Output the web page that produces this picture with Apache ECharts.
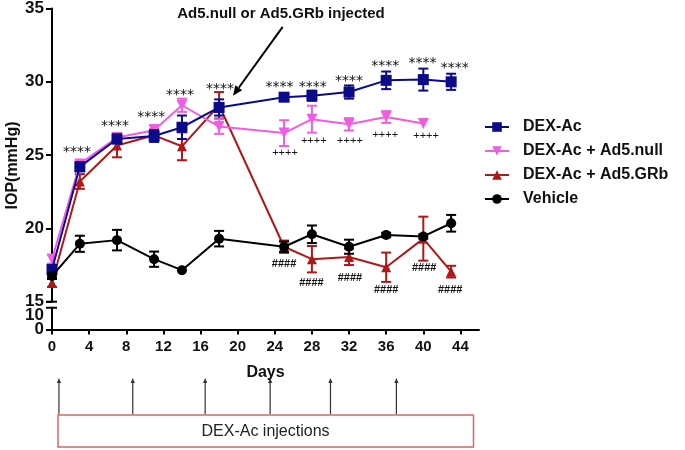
<!DOCTYPE html>
<html><head><meta charset="utf-8">
<script src="https://cdn.jsdelivr.net/npm/echarts@6/dist/echarts.min.js"></script>
<style>html,body{margin:0;padding:0;background:#fff}#c{width:685px;height:450px}</style>
</head><body><div id="c"></div>
<script>
// ---- data ----
const days = [0, 3, 7, 11, 14, 18, 25, 28, 32, 36, 40, 43];
const dexAc = [17.2, 24.2, 26.1, 26.3, 26.9, 28.25, 28.95, 29.05, 29.3, 30.1, 30.15, 30.0];
const dexAcErr = [0.3, 0.3, 0.3, 0.4, 0.8, 0.55, 0.25, 0.35, 0.45, 0.6, 0.75, 0.55];
const adNull = [17.9, 24.4, 26.2, 26.7, 28.4, 26.95, 26.5, 27.45, 27.1, 27.6, 27.15, null];
const adNullErr = [0.3, 0.25, 0.2, 0.35, 0.45, 0.5, 0.88, 0.92, 0.42, 0.4, 0, 0];
const adGRb = [16.3, 23.2, 25.65, 26.35, 25.6, 28.4, 18.75, 17.9, 18.05, 17.35, 19.3, 17.05];
const adGRbErr = [0.3, 0.5, 0.8, 0.4, 0.95, 0.9, 0.42, 0.9, 0.55, 1.0, 1.5, 0.4];
const vehicle = [16.75, 18.95, 19.2, 17.9, 17.15, 19.3, 18.75, 19.6, 18.75, 19.55, 19.45, 20.35];
const vehicleErr = [0.2, 0.55, 0.7, 0.52, 0, 0.53, 0.35, 0.6, 0.48, 0.15, 0.15, 0.57];

const xTicks = [0, 4, 8, 12, 16, 20, 24, 28, 32, 36, 40, 44];
const yTicksUpper = [15, 20, 25, 30, 35];
const yTicksLower = [0, 10];

// significance annotations (day, level)
const starDays = [2.7, 6.8, 10.7, 13.8, 18.1, 24.5, 28.1, 32.0, 35.9, 39.9, 43.4];
const starLevels = [25.2, 26.95, 27.6, 29.05, 29.5, 29.62, 29.62, 30.0, 31.02, 31.25, 30.93];
const plusDays = [25.1, 28.2, 32.1, 35.9, 40.3];
const plusLevels = [25.15, 25.98, 25.98, 26.39, 26.28];
const hashDays = [25.0, 27.95, 32.1, 36.0, 40.1, 42.9];
const hashLevels = [17.54, 16.29, 16.63, 15.79, 17.31, 15.79];

const injectionDays = [0.75, 8.7, 16.5, 23.5, 30, 37.1];

const names = ['DEX-Ac', 'DEX-Ac + Ad5.null', 'DEX-Ac + Ad5.GRb', 'Vehicle'];
const colors = ['#0b0b8a', '#f25ce2', '#b01818', '#000000'];

const FONT = '"Liberation Sans", Arial, Helvetica, sans-serif';
const chart = echarts.init(document.getElementById('c'));

function pairs(vals) {
  return days.map((d, i) => [d, vals[i]]).filter(p => p[1] != null);
}
function errs(vals, e) {
  return days.map((d, i) => [d, vals[i], e[i]]).filter(p => p[1] != null && p[2] > 0)
             .map(p => [p[0], p[1] - p[2], p[1] + p[2]]);
}
function errSeries(vals, e, color, z) {
  return {
    type: 'custom', xAxisIndex: 0, yAxisIndex: 0, z: z, silent: true,
    data: errs(vals, e),
    renderItem: function (params, api) {
      const x = api.value(0);
      const top = api.coord([x, api.value(2)]);
      const bot = api.coord([x, api.value(1)]);
      const w = 5;
      const st = { stroke: color, lineWidth: 2 };
      return { type: 'group', children: [
        { type: 'line', shape: { x1: top[0], y1: top[1], x2: bot[0], y2: bot[1] }, style: st },
        { type: 'line', shape: { x1: top[0] - w, y1: top[1], x2: top[0] + w, y2: top[1] }, style: st },
        { type: 'line', shape: { x1: bot[0] - w, y1: bot[1], x2: bot[0] + w, y2: bot[1] }, style: st }
      ]};
    }
  };
}
function textSeries(xs, ys, txt, font) {
  return {
    type: 'custom', xAxisIndex: 0, yAxisIndex: 0, z: 10, silent: true,
    data: xs.map((x, i) => [x, ys[i]]),
    renderItem: function (params, api) {
      const p = api.coord([api.value(0), api.value(1)]);
      return { type: 'text', x: p[0], y: p[1], style: {
        text: txt, fill: '#111', font: font,
        align: 'center', verticalAlign: 'middle' } };
    }
  };
}
function lineSeries(idx, vals, symbol, size, rot, z) {
  return {
    name: names[idx], type: 'line', xAxisIndex: 0, yAxisIndex: 0, z: z,
    data: pairs(vals), symbol: symbol, symbolSize: size, symbolRotate: rot,
    showAllSymbol: true,
    lineStyle: { color: colors[idx], width: 2 },
    itemStyle: { color: colors[idx], borderWidth: 0 },
    emphasis: { disabled: true }, animation: false
  };
}

const axisLine = { show: true, onZero: false, lineStyle: { color: '#000', width: 2 } };
const axisTick = { show: true, length: 6, lineStyle: { color: '#000', width: 2 } };
const yLabel = { color: '#111', fontFamily: FONT, fontWeight: 'bold', fontSize: 17, margin: 8, lineHeight: 12,
  hideOverlap: false, showMinLabel: true, showMaxLabel: true };

const option = {
  animation: false,
  grid: [
    { left: 52, top: 7.3, width: 427, height: 294.4 },
    { left: 52, top: 307.75, width: 427, height: 21.75 }
  ],
  xAxis: [
    { gridIndex: 0, type: 'value', min: 0, max: 46, show: false },
    { gridIndex: 1, type: 'value', min: 0, max: 46,
      axisLine: axisLine,
      axisTick: { show: true, length: 5, lineStyle: { color: '#000', width: 2 }, customValues: xTicks },
      axisLabel: { customValues: xTicks, color: '#111', fontFamily: FONT, fontWeight: 'bold', fontSize: 15, margin: 10,
        hideOverlap: false, showMinLabel: true },
      splitLine: { show: false },
      name: 'Days', nameLocation: 'middle', nameGap: 35,
      nameTextStyle: { color: '#111', fontFamily: FONT, fontWeight: 'bold', fontSize: 16 } }
  ],
  yAxis: [
    { gridIndex: 0, type: 'value', min: 15, max: 35,
      axisLine: axisLine,
      axisTick: Object.assign({}, axisTick, { customValues: yTicksUpper }),
      axisLabel: Object.assign({ customValues: yTicksUpper }, yLabel),
      splitLine: { show: false } },
    { gridIndex: 1, type: 'value', min: 0, max: 15,
      axisLine: axisLine,
      axisTick: Object.assign({}, axisTick, { customValues: yTicksLower }),
      axisLabel: Object.assign({ customValues: yTicksLower }, yLabel),
      splitLine: { show: false } }
  ],
  legend: {
    data: names, orient: 'vertical', left: 479, top: 114,
    itemWidth: 24, itemHeight: 12, itemGap: 8,
    textStyle: { color: '#111', fontFamily: FONT, fontWeight: 'bold', fontSize: 16, padding: [0, 0, 0, 9] },
    selectedMode: false
  },
  series: [
    errSeries(adGRb, adGRbErr, colors[2], 2),
    lineSeries(2, adGRb, 'triangle', 10, 0, 2),
    errSeries(adNull, adNullErr, colors[1], 3),
    lineSeries(1, adNull, 'triangle', 11, 180, 3),
    errSeries(dexAc, dexAcErr, colors[0], 4),
    lineSeries(0, dexAc, 'rect', 11, 0, 4),
    errSeries(vehicle, vehicleErr, colors[3], 5),
    lineSeries(3, vehicle, 'circle', 10, 0, 5),
    textSeries(starDays, starLevels, '****', '14px "DejaVu Sans", sans-serif'),
    textSeries(plusDays, plusLevels, '++++', '11px ' + FONT),
    textSeries(hashDays, hashLevels, '####', 'bold 11px ' + FONT)
  ]
};
chart.setOption(option);

// ---- decorations ----
const p15 = chart.convertToPixel({ gridIndex: 0 }, [0, 15]);
const pLowTop = chart.convertToPixel({ gridIndex: 1 }, [0, 15]);
const ax = p15[0];

function arrow(x1, y1, x2, y2, width, head, color) {
  const dx = x2 - x1, dy = y2 - y1, L = Math.sqrt(dx * dx + dy * dy);
  const ux = dx / L, uy = dy / L;
  const bx = x2 - ux * head * 1.4, by = y2 - uy * head * 1.4;
  return [
    { type: 'line', shape: { x1: x1, y1: y1, x2: bx, y2: by }, style: { stroke: color, lineWidth: width } },
    { type: 'polygon', shape: { points: [[x2, y2], [bx - uy * head * 0.6, by + ux * head * 0.6], [bx + uy * head * 0.6, by - ux * head * 0.6]] },
      style: { fill: color } }
  ];
}

const g = [];
g.push({ type: 'line', shape: { x1: ax - 6, y1: p15[1], x2: ax + 5, y2: p15[1] }, style: { stroke: '#000', lineWidth: 2 } });
g.push({ type: 'line', shape: { x1: ax - 6, y1: pLowTop[1], x2: ax + 5, y2: pLowTop[1] }, style: { stroke: '#000', lineWidth: 2 } });

// fallback: make sure both lower-axis labels exist
(function () {
  const seen = {};
  try {
    chart.getZr().storage.getDisplayList(true).forEach(el => {
      if (el.style && (el.style.text === '0' || el.style.text === '10')) {
        const t = el.transform; const cx = t ? t[4] : el.x;
        if (cx < ax - 2) seen[el.style.text] = true;
      }
    });
  } catch (e) {}
  yTicksLower.forEach(v => {
    if (!seen[String(v)]) {
      const p = chart.convertToPixel({ gridIndex: 1 }, [0, v]);
      g.push({ type: 'text', x: ax - 8, y: p[1], style: { text: String(v), font: 'bold 17px ' + FONT, fill: '#111', align: 'right', verticalAlign: 'middle' } });
    }
  });
})();

// y axis title
g.push({ type: 'text', x: 12.5, y: 165.5, rotation: Math.PI / 2,
  style: { text: 'IOP(mmHg)', font: 'bold 16px ' + FONT, fill: '#111', align: 'center', verticalAlign: 'middle' } });

// top annotation
const tipA = chart.convertToPixel({ gridIndex: 0 }, [19.5, 29.05]);
const tailA = chart.convertToPixel({ gridIndex: 0 }, [24.85, 33.75]);
g.push(...arrow(tailA[0], tailA[1], tipA[0], tipA[1], 2, 7, '#000'));
g.push({ type: 'text', x: 281, y: 14,
  style: { text: 'Ad5.null or Ad5.GRb injected', font: 'bold 15px ' + FONT, fill: '#111', align: 'center', verticalAlign: 'middle' } });

// injection arrows and box
injectionDays.forEach(d => {
  const px = chart.convertToPixel({ gridIndex: 1 }, [d, 0])[0];
  g.push(...arrow(px, 414, px, 378, 1.2, 3.5, '#333'));
});
g.push({ type: 'rect', shape: { x: 58, y: 415, width: 415.5, height: 32 },
  style: { fill: '#fff', stroke: '#d9646a', lineWidth: 1.5 } });
g.push({ type: 'text', x: 265.5, y: 431.5,
  style: { text: 'DEX-Ac injections', font: '16px ' + FONT, fill: '#222', align: 'center', verticalAlign: 'middle' } });

chart.setOption({ graphic: g });
</script></body></html>
